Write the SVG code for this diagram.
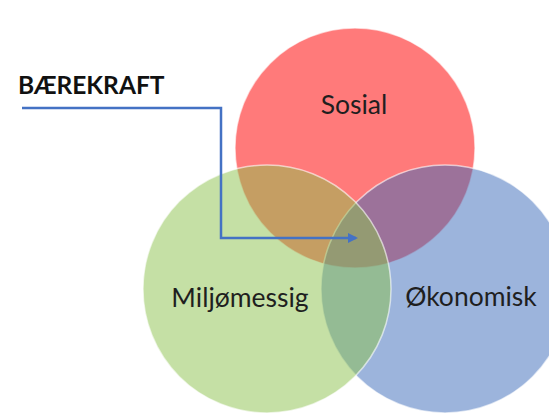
<svg xmlns="http://www.w3.org/2000/svg" width="549" height="414" viewBox="0 0 549 414">
<style>
.c{stroke:#ffffff;stroke-width:1.5;stroke-opacity:0.6}
.lbl{font-family:Lato,"Open Sans","Liberation Sans",sans-serif;font-size:26.5px;fill:#1f1f1f;text-anchor:middle}
.title{font-family:Lato,"Open Sans","Liberation Sans",sans-serif;font-size:24.5px;font-weight:bold;fill:#111111}
.conn{fill:none;stroke:#4472C4;stroke-width:2.5}
</style>
<defs>
<marker id="arr" viewBox="0 0 10 10" refX="8" refY="5" markerWidth="4" markerHeight="4" orient="auto" markerUnits="strokeWidth">
<path d="M0,0 L10,5 L0,10 z" fill="#4472C4"/>
</marker>
</defs>
<rect width="549" height="414" fill="#ffffff"/>
<g id="sosial">
<circle class="c" cx="355" cy="148" r="120" fill="rgba(255,0,0,0.52)"/>
</g>
<g id="okonomisk">
<circle class="c" cx="445" cy="289" r="124" fill="rgba(57,105,185,0.5)"/>
</g>
<g id="miljomessig">
<circle class="c" cx="267" cy="289" r="124" fill="rgba(139,193,75,0.5)"/>
</g>
<g id="labels">
<text class="lbl" x="354" y="114">Sosial</text>
<text class="lbl" x="240" y="307">Miljømessig</text>
<text class="lbl" x="471" y="306">Økonomisk</text>
</g>
<g id="baerekraft">
<text class="title" x="18" y="94">BÆREKRAFT</text>
</g>
<g id="connectors">
<path class="conn" d="M22,108 H221 V238 H356" marker-end="url(#arr)"/>
</g>
</svg>
